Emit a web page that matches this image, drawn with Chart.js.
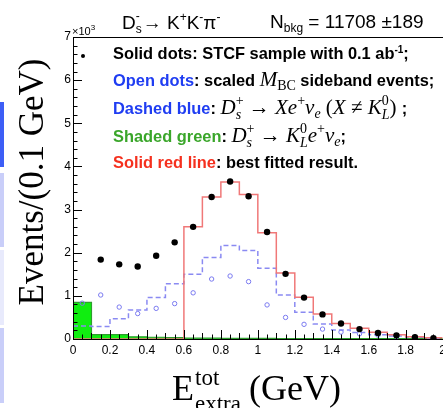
<!DOCTYPE html>
<html><head><meta charset="utf-8">
<script src="https://cdn.jsdelivr.net/npm/chart.js@4.4.1/dist/chart.umd.min.js"></script>
<style>
html,body{margin:0;padding:0;background:#fff;overflow:hidden;width:443px;height:408px;}
#wrap{position:absolute;left:0;top:0;width:450px;height:408px;}
.strip{position:absolute;left:0;width:4px;}
</style></head>
<body>
<div class="strip" style="top:102px;height:65px;background:#3d5ef6"></div>
<div class="strip" style="top:173px;height:74px;background:#c9cef9"></div>
<div class="strip" style="top:250px;height:75px;background:#e8eafc"></div>
<div class="strip" style="top:328px;height:75px;background:#c9cef9"></div>
<div id="wrap"><canvas id="c" width="450" height="408"></canvas></div>
<script>
// ---- data (values in units of 10^3 events per 0.1 GeV) ----
const binEdges   = [0,0.1,0.2,0.3,0.4,0.5,0.6,0.7,0.8,0.9,1.0,1.1,1.2,1.3,1.4,1.5,1.6,1.7,1.8,1.9,2.0];
const binCenters = [0.05,0.15,0.25,0.35,0.45,0.55,0.65,0.75,0.85,0.95,1.05,1.15,1.25,1.35,1.45,1.55,1.65,1.75,1.85,1.95];
const solidDots  = [null,1.84,1.73,1.68,1.93,2.24,2.60,3.29,3.65,3.31,2.48,1.51,0.96,0.57,0.36,0.23,0.14,0.085,0.04,0.02];
const openDots   = [0.83,1.02,0.74,0.59,0.71,0.82,1.07,1.39,1.46,1.33,0.79,0.50,0.34,0.23,0.16,0.12,0.09,0.06,0.04,0.02];
const dashedBlue = [0.30,0.29,0.47,0.67,0.96,1.28,1.50,1.89,2.17,2.05,1.64,1.02,0.62,0.35,0.21,0.15,0.10,0.07,0.04,0.02];
const redFit     = [0,0,0,0,0,0,2.60,3.29,3.64,3.35,2.46,1.53,0.97,0.58,0.36,0.25,0.155,0.10,0.05,0.03];
const greenKL    = [0.85,0.10,0.10,0.05,0.04,0.03,0.02,0.02,0.015,0.015,0.015,0.012,0.012,0.012,0.012,0.012,0.012,0.012,0.012,0.012];
const xTickLabels = ['0','0.2','0.4','0.6','0.8','1','1.2','1.4','1.6','1.8','2'];
const yTickLabels = ['0','1','2','3','4','5','6','7'];

function hist(vals){
  const p = vals.map((v,i)=>({x:binEdges[i], y:v}));
  p.push({x:binEdges[vals.length], y:vals[vals.length-1]});
  return p;
}
function pts(vals){ return vals.map((v,i)=>({x:binCenters[i], y:v})); }

const SANS  = (s,w)=>`${w||''} ${s}px "Liberation Sans", Arial, Helvetica, sans-serif`;
const SERIF = (s)=>`${s}px "Liberation Serif", "Times New Roman", serif`;
const SERIFI= (s)=>`italic ${s}px "Liberation Serif", "Times New Roman", serif`;

function rich(ctx, x, y, segs){
  ctx.textBaseline='alphabetic'; ctx.textAlign='left';
  for(const s of segs){
    if(s.stack){
      let w=0;
      ctx.fillStyle=s.color||'#000';
      ctx.font=s.supFont; ctx.fillText(s.sup, x, y+s.supDy); w=Math.max(w,ctx.measureText(s.sup).width);
      ctx.font=s.subFont; ctx.fillText(s.sub, x, y+s.subDy); w=Math.max(w,ctx.measureText(s.sub).width);
      x+=w+(s.gap||0);
    } else {
      ctx.font=s.f; ctx.fillStyle=s.c||'#000';
      ctx.fillText(s.t, x, y+(s.dy||0));
      x+=ctx.measureText(s.t).width+(s.gap||0);
    }
  }
  return x;
}

const overlay = {
  id:'overlay',
  afterDatasetsDraw(chart){
    const {ctx, chartArea:a, scales:{x,y}} = chart;
    ctx.save();
    ctx.strokeStyle='#000'; ctx.lineWidth=1;
    ctx.beginPath();
    ctx.rect(Math.round(a.left)+0.5, Math.round(a.top)+0.5, Math.round(a.right-a.left), Math.round(a.bottom-a.top));
    for(let k=0;k<=35;k++){
      const py=Math.round(y.getPixelForValue(k*0.2))+0.5;
      const L = (k%5===0)?9:4.5;
      ctx.moveTo(a.left, py); ctx.lineTo(a.left+L, py);
    }
    for(let k=0;k<=40;k++){
      const px=Math.round(x.getPixelForValue(k*0.05))+0.5;
      const L = (k%4===0)?9:((k%2===0)?6:4.5);
      ctx.moveTo(px, a.bottom); ctx.lineTo(px, a.bottom-L);
    }
    ctx.stroke();
    ctx.restore();
  },
  afterDraw(chart){
    const {ctx, chartArea:a} = chart;
    ctx.save();
    rich(ctx, a.left-1, 35, [
      {t:'\u00d710', f:SANS(11)},
      {t:'3', f:SANS(8), dy:-5}
    ]);
    const HF=SANS(19), HS=SANS(12);
    rich(ctx, 122, 29, [
      {t:'D', f:HF},
      {stack:true, sup:'-', sub:'s', supFont:HS, subFont:HS, supDy:-9, subDy:4, gap:1},
      {t:'\u2192 K', f:HF},
      {t:'+', f:HS, dy:-8},
      {t:'K', f:HF},
      {t:'-', f:HS, dy:-8},
      {t:'\u03c0', f:HF},
      {t:'-', f:HS, dy:-8}
    ]);
    rich(ctx, 270, 28, [
      {t:'N', f:HF},
      {t:'bkg', f:HS, dy:4},
      {t:' = 11708 \u00b1189', f:HF}
    ]);
    ctx.fillStyle='#000'; ctx.beginPath(); ctx.arc(83,56,2,0,Math.PI*2); ctx.fill();
    const B=SANS(16.4,'bold'), BS=SANS(10,'bold');
    const M=SERIF(21), MI=SERIFI(21), MS=SERIF(14), MSI=SERIFI(14);
    const blue='#1f3df2', green='#3aa62a', red='#f5301e';
    const X0=113;
    rich(ctx, X0, 59, [
      {t:'Solid dots: STCF sample with 0.1 ab', f:B},
      {t:'-1', f:BS, dy:-6},
      {t:';', f:B}
    ]);
    rich(ctx, X0, 86, [
      {t:'Open dots', f:B, c:blue},
      {t:': scaled ', f:B},
      {t:'M', f:MI},
      {t:'BC', f:MS, dy:4},
      {t:' sideband events;', f:B}
    ]);
    rich(ctx, X0, 114, [
      {t:'Dashed blue', f:B, c:blue},
      {t:': ', f:B},
      {t:'D', f:MI},
      {stack:true, sup:'+', sub:'s', supFont:MS, subFont:MSI, supDy:-9, subDy:5},
      {t:' \u2192 ', f:M},
      {t:'Xe', f:MI},
      {t:'+', f:MS, dy:-9},
      {t:'\u03bd', f:MI},
      {t:'e', f:MSI, dy:4},
      {t:' (', f:M},
      {t:'X', f:MI},
      {t:' \u2260 ', f:M},
      {t:'K', f:MI},
      {stack:true, sup:'0', sub:'L', supFont:MS, subFont:MSI, supDy:-9, subDy:5},
      {t:') ', f:M},
      {t:';', f:B}
    ]);
    rich(ctx, X0, 142, [
      {t:'Shaded green', f:B, c:green},
      {t:': ', f:B},
      {t:'D', f:MI},
      {stack:true, sup:'+', sub:'s', supFont:MS, subFont:MSI, supDy:-9, subDy:5},
      {t:' \u2192 ', f:M},
      {t:'K', f:MI},
      {stack:true, sup:'0', sub:'L', supFont:MS, subFont:MSI, supDy:-9, subDy:5},
      {t:'e', f:MI},
      {t:'+', f:MS, dy:-9},
      {t:'\u03bd', f:MI},
      {t:'e', f:MSI, dy:4},
      {t:';', f:B}
    ]);
    rich(ctx, X0, 168, [
      {t:'Solid red line', f:B, c:red},
      {t:': best fitted result.', f:B}
    ]);
    const TF=SERIF(36), TS=SERIF(23);
    ctx.fillStyle='#000';
    ctx.font=TF; ctx.fillText('E',172,400);
    let ex=172+ctx.measureText('E').width+1;
    ctx.font=TS; ctx.fillText('tot',ex,385); ctx.fillText('extra',ex,411);
    ex+=ctx.measureText('extra').width+8;
    ctx.font=TF; ctx.fillText('(GeV)',ex,400);
    ctx.save();
    ctx.translate(43,182); ctx.rotate(-Math.PI/2);
    ctx.font=SERIF(35); ctx.textAlign='center'; ctx.textBaseline='alphabetic';
    ctx.fillText('Events/(0.1 GeV)',0,0);
    ctx.restore();
    ctx.restore();
  }
};

new Chart(document.getElementById('c'), {
  type:'scatter',
  data:{datasets:[
    {label:'Solid dots', data:pts(solidDots), showLine:false, pointRadius:3.2, pointBackgroundColor:'#000', pointBorderColor:'#000', pointBorderWidth:0},
    {label:'Open dots', data:pts(openDots), showLine:false, pointRadius:2.2, pointBackgroundColor:'rgba(0,0,0,0)', pointBorderColor:'#7a7af0', pointBorderWidth:1},
    {label:'Red fit', data:hist(redFit), showLine:true, stepped:true, borderColor:'#f07878', borderWidth:1.5, pointRadius:0, fill:false},
    {label:'Dashed blue', data:hist(dashedBlue), showLine:true, stepped:true, borderColor:'#8a8af2', borderWidth:1.5, borderDash:[5,3], pointRadius:0, fill:false},
    {label:'Green', data:hist(greenKL), showLine:true, stepped:true, borderColor:'#2e9e2e', borderWidth:1.2, backgroundColor:'#10ee10', pointRadius:0, fill:'origin'}
  ]},
  options:{
    responsive:false, animation:false, events:[],
    layout:{padding:{left:0,right:5,top:37,bottom:0}},
    plugins:{legend:{display:false}, tooltip:{enabled:false}},
    scales:{
      x:{type:'linear', min:0, max:2,
         grid:{display:false, drawTicks:false}, border:{display:false},
         afterFit(s){ s.height=69; },
         afterBuildTicks(s){ s.ticks = xTickLabels.map(l=>({value:parseFloat(l)})); },
         ticks:{padding:4, color:'#000', maxRotation:0, autoSkip:false,
                font:{family:'"Liberation Sans", Arial, sans-serif', size:12},
                callback:(v,i)=>xTickLabels[i]}},
      y:{type:'linear', min:0, max:7,
         grid:{display:false, drawTicks:false}, border:{display:false},
         afterFit(s){ s.width=73; },
         afterBuildTicks(s){ s.ticks = yTickLabels.map(l=>({value:parseFloat(l)})); },
         ticks:{padding:2, color:'#000', autoSkip:false,
                font:{family:'"Liberation Sans", Arial, sans-serif', size:12},
                callback:(v,i)=>yTickLabels[i]}}
    }
  },
  plugins:[overlay]
});
</script>
</body></html>
